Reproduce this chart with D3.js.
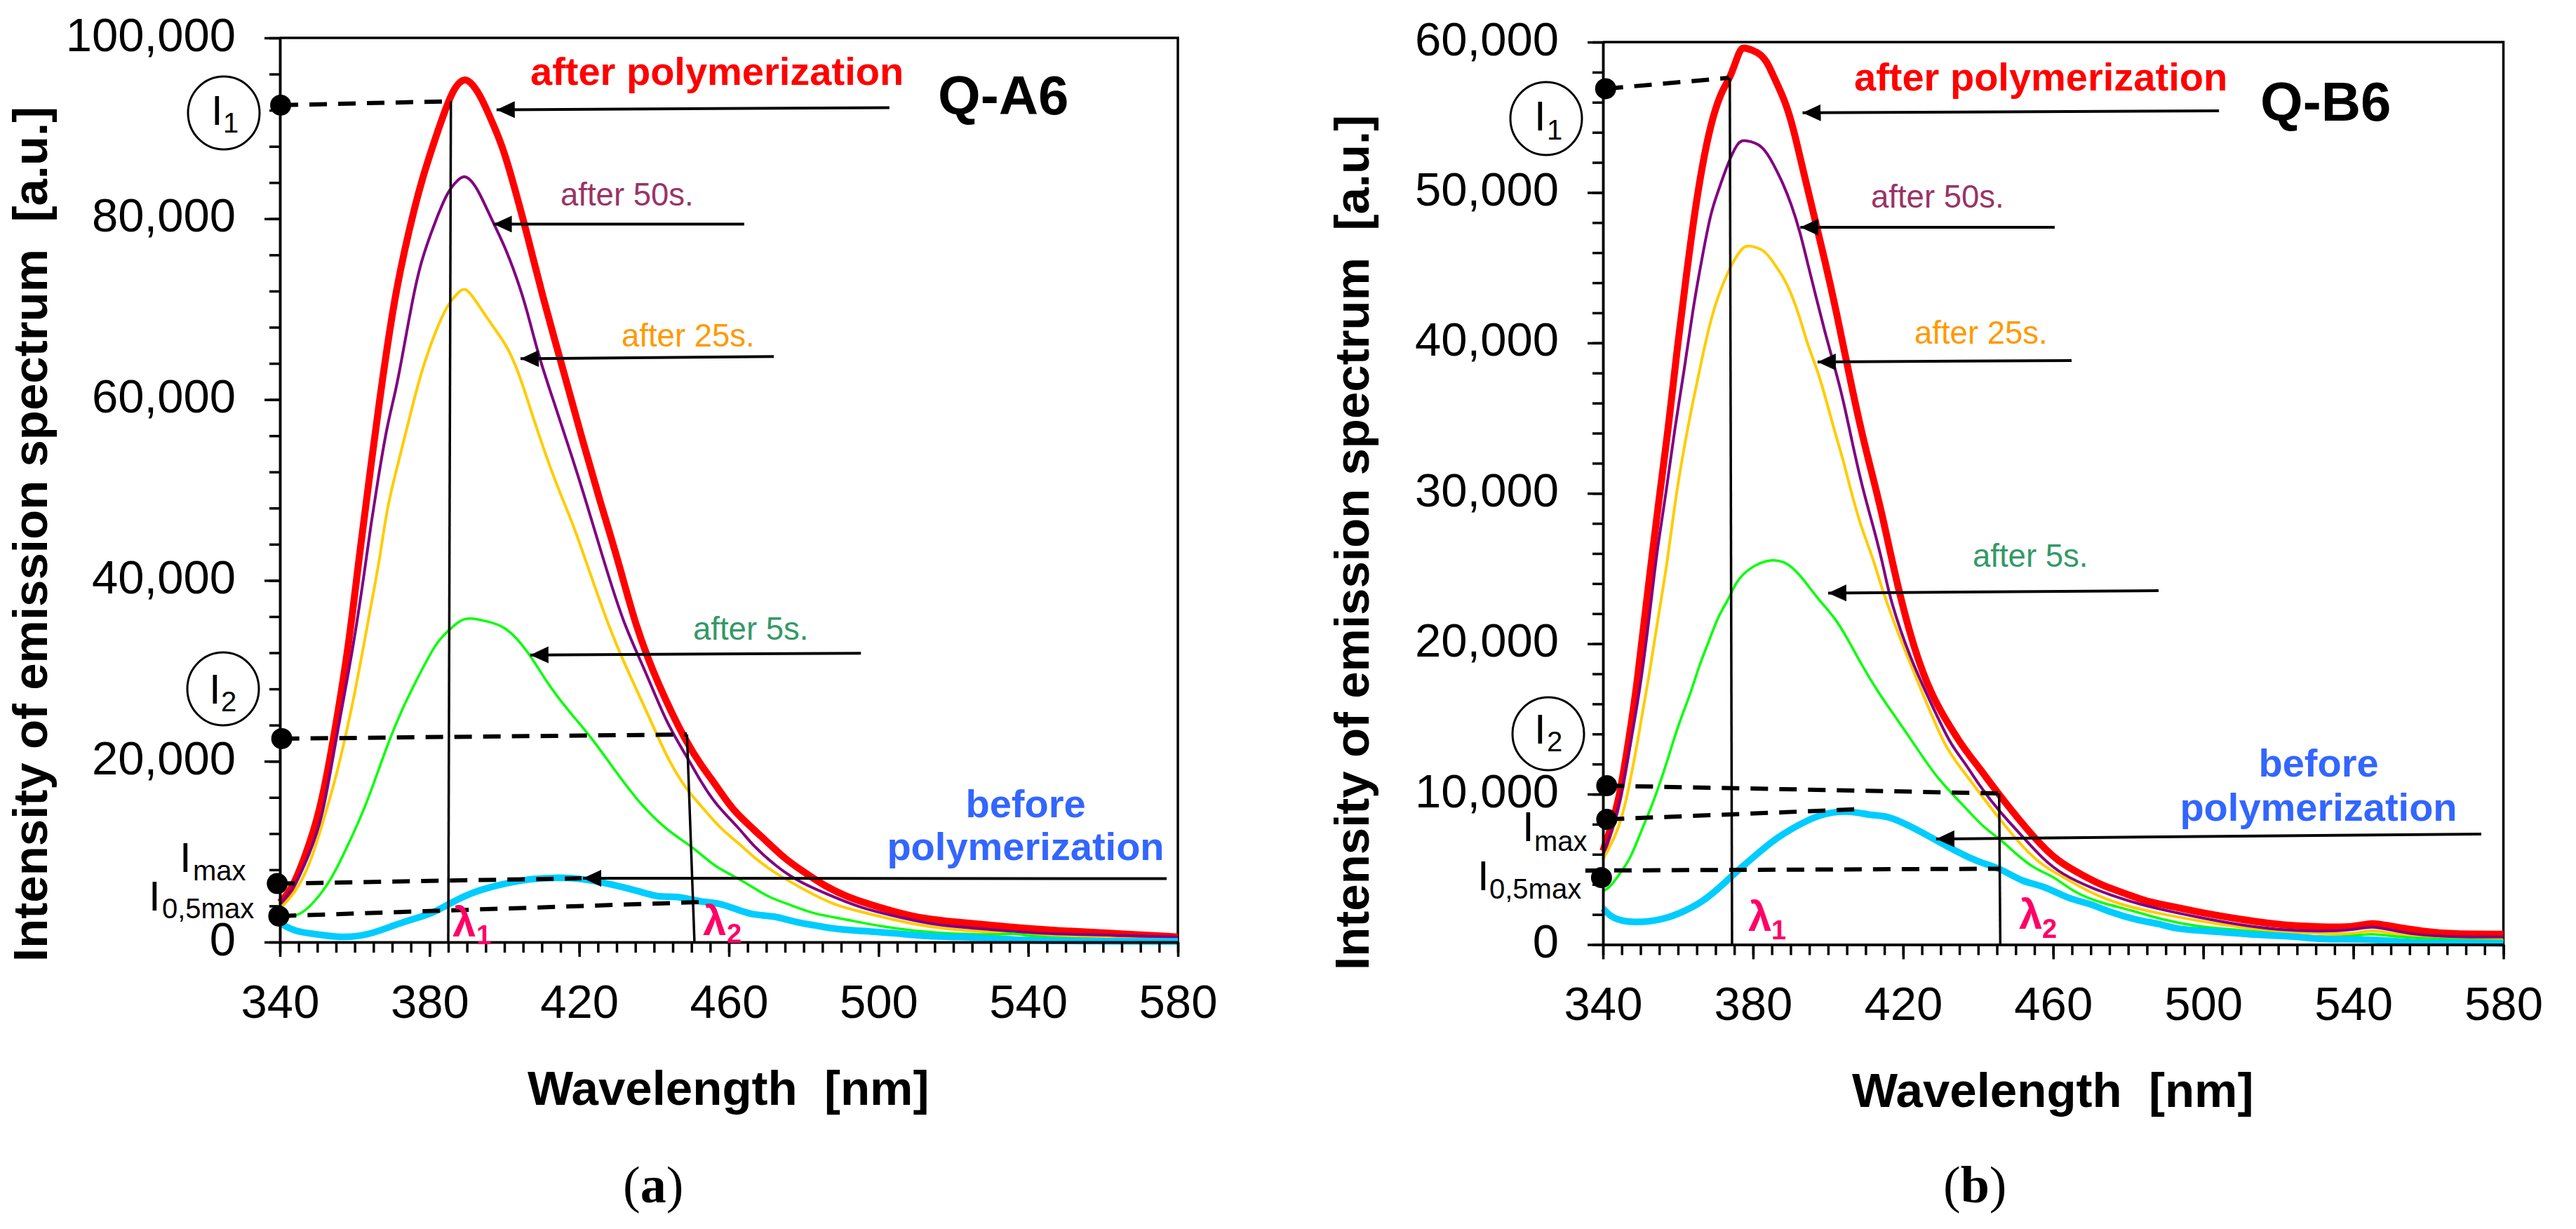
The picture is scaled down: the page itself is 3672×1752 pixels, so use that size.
<!DOCTYPE html>
<html>
<head>
<meta charset="utf-8">
<script src="https://cdn.jsdelivr.net/npm/d3@7"></script>
<style>
  body { margin: 0; background: #fff; }
  text { font-family: "Liberation Sans", Arial, sans-serif; white-space: pre; }
</style>
</head>
<body>
<div id="chart"></div>
<script>
// Wavelength axis, shared by both panels
const xMajorTicks = [340, 380, 420, 460, 500, 540, 580];
const xMinorTicks = d3.range(340, 581, 5);

// Panel (a) Q-A6: [wavelength, intensity]
const redA = [[340,4400],[342.9,5600],[346.5,9150],[350.7,14300],[354.3,22300],[358.4,32700],[361,42100],[366.8,60650],[371,72500],[376.4,82000],[378.8,85500],[384.8,92900],[387,94700],[389.3,95600],[391.5,94900],[393.8,93500],[398,89500],[400.3,87100],[406.3,78000],[410,71700],[415.9,63000],[420.6,55900],[425.5,48800],[430.5,42100],[435,35000],[441,28500],[448.8,21900],[452.7,19500],[457.5,16800],[461.3,14400],[469,11600],[474.6,9300],[480.4,7650],[485.2,6300],[491.9,4900],[500.5,3800],[510,2700],[519.6,2250],[534,1700],[548.3,1240],[562.7,960],[580,570]];
const purpleA = [[340,4200],[344,6100],[347.7,9600],[351.3,13400],[354.9,22300],[359.7,32700],[363,42100],[364.4,46400],[366.2,51100],[368.6,57100],[371,61000],[372.8,65000],[375.2,70500],[377.6,75300],[381.8,80000],[384.8,83000],[387.5,84300],[389.3,84800],[391,84300],[393,83200],[397.4,79200],[400.3,76800],[404.5,72100],[406.9,68500],[409.3,64600],[413.5,59400],[418.2,53500],[421.2,49600],[426.6,42100],[432,35000],[437.4,30300],[443.3,24200],[448.8,20500],[452.7,17600],[456.5,15200],[463.2,12400],[466,10850],[472.8,8300],[478.6,6700],[486.2,5300],[495.7,3700],[504.4,2870],[514.9,1860],[529.2,1430],[543.6,900],[562.7,780],[580,570]];
const yellowA = [[340,3700],[344,5400],[347.7,8200],[351.3,12950],[354.9,18100],[357.3,22300],[360.3,28000],[364.4,37400],[366.6,42100],[368.6,48000],[371,52000],[373.4,55900],[377.6,63000],[381.8,67800],[384.8,70500],[387.5,71800],[389.3,72400],[391,71700],[393,70500],[397.4,67800],[401,65800],[404.5,62200],[406.9,59000],[411,53900],[414.6,49900],[418.2,46400],[421.8,42100],[423,40700],[427.8,35000],[432.6,30300],[437.4,26100],[443.3,20500],[448.2,17100],[452.7,15000],[457.5,12650],[462.3,11050],[468,8900],[472.8,7500],[481.4,5500],[488.1,4100],[495.7,3300],[505.3,2340],[514.9,1550],[529.2,1090],[543.6,780],[562.7,390],[580,250]];
const greenA = [[340,2700],[342.4,2800],[345.3,3000],[348.8,4200],[353.7,6800],[358.5,11000],[362.7,14800],[366.8,19550],[369.2,22300],[372.8,25900],[376.4,28900],[381.8,33200],[384.8,34350],[388,35600],[390.7,35900],[395,35500],[400.3,35000],[406.3,32200],[411,28900],[417,25600],[423,22800],[430.2,18600],[436.2,15300],[443.3,12400],[449.3,10800],[452.7,9650],[456.5,8300],[462.3,7100],[467,5900],[470.9,4900],[477.6,3950],[482.4,3130],[491,2550],[500.5,1700],[514.9,960],[534,780],[536,1000],[538,780],[548,390],[580,220]];
const blueA = [[340,2100],[344,1160],[348.8,930],[356,470],[363.2,700],[370.4,1860],[376.4,2640],[381.2,3260],[386,4420],[391.9,5600],[399,6360],[405,6900],[413.5,7170],[420.6,7050],[429,6360],[436.2,5600],[441.6,4900],[445.8,5150],[452.7,4400],[457.5,4340],[462.3,3570],[467,2950],[471.8,2950],[478.6,2100],[483.3,1860],[488,1430],[498.6,1160],[505.3,960],[512,640],[529,490],[538.7,170],[558,100],[580,80]];

// Panel (b) Q-B6
const redB = [[340,6230],[342,7650],[344.3,9630],[346.7,13310],[349.1,17280],[351.5,22650],[355.1,29960],[357.5,34480],[359.8,39710],[362.2,44470],[364.6,49000],[367,52570],[369.4,55180],[371.8,56850],[374.1,57680],[376.5,59600],[377.7,59650],[381.3,59350],[383.7,58750],[385.5,57680],[388.5,56140],[390.8,54230],[393.2,51610],[396.2,48520],[399.2,45430],[402.2,42100],[405.1,38520],[408.1,34950],[411.1,31860],[414.1,29000],[418.3,24000],[423,19540],[427.8,16430],[432.6,14440],[436.3,13000],[440.5,11690],[445.7,9900],[455,7050],[461.3,5500],[467.5,4660],[472.7,3950],[481,3240],[485.2,2830],[493.5,2450],[500.8,2050],[511.2,1620],[521.6,1260],[532,1170],[540.3,1140],[545,1500],[549.7,1210],[559,860],[566.3,690],[580,690]];
const purpleB = [[340,5950],[342,7360],[344.3,9060],[347.3,13310],[350.3,17560],[353.3,23790],[354.5,26390],[356.8,29960],[359.2,34480],[361.6,38050],[364,42330],[366.4,45660],[368.8,48760],[370.6,50000],[372.9,51700],[375.9,53400],[377.7,53500],[382.5,53200],[385.5,51850],[387.9,50660],[390.2,49230],[392.6,47330],[394.4,45430],[396.8,43050],[399.2,40670],[401.6,38520],[403.9,36380],[406.3,33530],[409.3,30190],[412.3,27580],[414.9,25000],[416.5,22940],[421.9,18980],[427.8,15860],[432.6,13300],[436.3,12160],[440.5,10500],[445.7,8830],[451.9,7160],[457.1,5730],[462.3,4660],[470.6,3710],[480,2880],[488.3,2350],[498.7,1810],[509.1,1330],[519.5,980],[532,860],[540.3,980],[545,1250],[549.7,980],[555.9,670],[566.3,500],[580,500]];
const yellowB = [[340,5660],[343.7,7360],[346.1,9340],[349.1,13310],[352.1,17560],[355.1,22370],[357.2,25480],[359.2,29480],[361.6,33050],[364,36140],[366.4,39000],[368.8,41620],[370.6,43050],[373.5,44900],[377.1,46400],[378.9,46500],[383.1,46200],[385.5,45310],[387.9,44470],[390.2,43300],[392.6,41620],[394.4,39950],[397.4,38050],[399.8,35910],[401.6,34240],[403.9,32340],[406.3,29960],[408.7,27810],[412.3,25480],[414.1,23790],[419.5,20110],[426.6,15860],[431.4,13000],[436.3,11450],[440.5,10020],[445.7,8350],[451.9,6450],[457.1,5260],[462.3,4540],[469.6,3470],[477.9,2640],[488.3,2050],[498.7,1570],[509.1,1170],[519.5,860],[532,740],[540.3,690],[545,1000],[549.7,740],[558,450],[580,310]];
const greenB = [[340,3540],[342,3820],[344.3,4670],[347.3,5660],[350.3,7650],[353.3,9340],[357.5,12460],[359.8,14440],[363.4,16710],[365.8,18690],[368.2,20110],[370.6,21810],[373.5,22940],[375.3,24070],[378.9,25060],[384.9,25700],[389.6,25350],[393.2,24360],[397.4,22940],[401.6,21810],[405.1,20390],[408.7,18690],[413.5,16710],[418.3,15010],[423,13310],[429,11050],[436.3,9190],[441.5,7760],[445.7,7050],[449.8,6090],[455,5020],[460.2,4540],[465.4,3470],[472.7,2760],[481,2280],[488.3,1690],[498.7,1170],[509.1,980],[519.5,740],[529.9,500],[540.3,550],[545,760],[549.7,550],[559,380],[580,260]];
const blueB = [[340,2410],[342.5,1700],[348,1420],[356.2,1640],[362.2,2270],[366.4,2830],[370.6,3680],[374.8,4670],[380.1,5810],[386.1,7080],[392,7930],[397.4,8640],[405.1,8950],[411.1,8580],[415.9,8580],[421.9,7870],[427.8,7080],[433.8,6230],[440.9,5400],[445.7,5100],[451.9,4140],[457.1,3950],[464.4,3000],[469.6,2760],[474.8,2170],[483.1,1570],[488.3,1400],[492.5,1020],[503.9,860],[514.3,620],[524.7,550],[532,310],[544.5,380],[558,70],[570.5,140],[580,70]];

// Annotations in data units: [x1, y1, x2, y2]
const dashesA = [[340.2,92560,385.7,92990],[340.5,22500,448.8,22960],[339.3,6470,420.6,7060],[339.7,2880,452.7,4430]];
const dropsA = [[385.7,92990,385,0],[448.8,22960,450.8,0]];
const dotsA = [[340.2,92560],[340.5,22500],[339.3,6470],[339.7,2880]];
const arrowsA = [[502.9,92280,397.9,92050],[464.1,79410,397.1,79410],[472,64750,404.3,64520],[495.3,31950,406.9,31750],[577,7020,421,7060]];

const dashesB = [[340.7,56900,373.5,57620],[341,10560,445.6,10050],[341,8325,408.4,9000],[335.3,4920,445.6,5040]];
const dropsB = [[373.8,57620,374.4,0],[445.6,10050,445.9,0]];
const dotsB = [[340.7,56900],[341,10560],[341,8325],[339.6,4450]];
const arrowsB = [[504.2,55430,393.2,55300],[460.4,47690,392.6,47690],[464.9,38830,397.2,38730],[488.1,23530,400,23370],[574.1,7350,428.8,7020]];

const svg = d3.select('#chart').append('svg')
    .attr('width', 3672)
    .attr('height', 1752);

svg.append('defs').append('marker')
    .attr('id', 'head')
    .attr('markerUnits', 'userSpaceOnUse')
    .attr('markerWidth', 28)
    .attr('markerHeight', 28)
    .attr('refX', 26)
    .attr('refY', 12)
    .attr('orient', 'auto')
    .append('path')
    .attr('d', 'M0,0L26,12L0,24Z')
    .attr('fill', '#000');

function label(x, y, str, size, color = '#000', weight = 'normal', anchor = 'start') {
    return svg.append('text')
        .attr('x', x)
        .attr('y', y)
        .attr('font-size', size)
        .attr('font-weight', weight)
        .attr('fill', color)
        .attr('text-anchor', anchor)
        .text(str);
}

function drawPanel(p) {
    const x = d3.scaleLinear().domain([340, 580]).range([p.left, p.right]);
    const y = d3.scaleLinear().domain([0, p.yMax]).range([p.bottom, p.top]);
    const g = svg.append('g');

    // Frame top and right
    g.append('path')
        .attr('d', `M${p.left},${p.top}H${p.right}V${p.bottom}`)
        .attr('fill', 'none')
        .attr('stroke', '#000')
        .attr('stroke-width', 3.5);

    // Curves
    const line = d3.line().x(d => x(d[0])).y(d => y(d[1])).curve(d3.curveBasis);
    p.series.forEach(s => {
        g.append('path')
            .attr('d', line(s.values))
            .attr('fill', 'none')
            .attr('stroke', s.color)
            .attr('stroke-width', s.width)
            .attr('stroke-linejoin', 'round');
    });

    // Axes: minor ticks first, then labelled majors
    const axisStyle = sel => {
        sel.selectAll('path,line').attr('stroke', '#000').attr('stroke-width', 3.5);
        sel.selectAll('text').attr('font-size', 67).attr('fill', '#000')
            .attr('font-family', '"Liberation Sans", Arial, sans-serif');
    };
    g.append('g').attr('transform', `translate(0,${p.bottom})`)
        .call(d3.axisBottom(x).tickValues(xMinorTicks).tickSize(15).tickFormat('').tickSizeOuter(0))
        .call(axisStyle);
    g.append('g').attr('transform', `translate(0,${p.bottom})`)
        .call(d3.axisBottom(x).tickValues(xMajorTicks).tickSize(21).tickPadding(39).tickSizeOuter(0))
        .call(axisStyle);
    g.append('g').attr('transform', `translate(${p.left},0)`)
        .call(d3.axisLeft(y).tickValues(p.yMinorTicks).tickSize(15).tickFormat('').tickSizeOuter(0))
        .call(axisStyle);
    g.append('g').attr('transform', `translate(${p.left},0)`)
        .call(d3.axisLeft(y).tickValues(p.yMajorTicks).tickSize(22).tickPadding(p.yPad).tickFormat(d3.format(',')).tickSizeOuter(0))
        .call(axisStyle)
        .selectAll('text').attr('dy', '0.27em');

    // Construction lines
    g.selectAll('.drop').data(p.drops).join('line')
        .attr('x1', d => x(d[0])).attr('y1', d => y(d[1]))
        .attr('x2', d => x(d[2])).attr('y2', d => y(d[3]))
        .attr('stroke', '#000').attr('stroke-width', 3.5);
    g.selectAll('.dash').data(p.dashes).join('line')
        .attr('x1', d => x(d[0])).attr('y1', d => y(d[1]))
        .attr('x2', d => x(d[2])).attr('y2', d => y(d[3]))
        .attr('stroke', '#000').attr('stroke-width', 6)
        .attr('stroke-dasharray', '25,16');
    g.selectAll('.dot').data(p.dots).join('circle')
        .attr('cx', d => x(d[0])).attr('cy', d => y(d[1]))
        .attr('r', 15).attr('fill', '#000');
    g.selectAll('.arrow').data(p.arrows).join('line')
        .attr('x1', d => x(d[0])).attr('y1', d => y(d[1]))
        .attr('x2', d => x(d[2])).attr('y2', d => y(d[3]))
        .attr('stroke', '#000').attr('stroke-width', 4)
        .attr('marker-end', 'url(#head)');

    // Circled I1 and I2
    p.circles.forEach(c => {
        g.append('ellipse')
            .attr('cx', c.cx).attr('cy', c.cy)
            .attr('rx', 51).attr('ry', 52)
            .attr('fill', 'none').attr('stroke', '#000').attr('stroke-width', 3);
        label(c.cx + c.ix, c.cy + c.iy, 'I', 60);
        label(c.cx + c.sx, c.cy + c.sy, c.sub, 40);
    });

    // I max and I 0,5max
    label(p.imax[0], p.imax[1], 'I', 60);
    label(p.imax[2], p.imax[3], 'max', 40);
    label(p.ihalf[0], p.ihalf[1], 'I', 60);
    label(p.ihalf[2], p.ihalf[3], '0,5max', 40);

    // Lambda labels
    p.lambdas.forEach(l => {
        label(l[0], l[1], 'λ', 60, '#ff0066', 'bold');
        label(l[2], l[3], l[4], 38, '#ff0066', 'bold');
    });

    // Curve names and panel name
    label(p.afterPoly[0], p.afterPoly[1], 'after polymerization', 56, '#ff0000', 'bold');
    label(p.name[0], p.name[1], p.name[2], 78, '#000', 'bold');
    label(p.after50[0], p.after50[1], 'after 50s.', 45.5, '#993366');
    label(p.after25[0], p.after25[1], 'after 25s.', 45.5, '#ff9900');
    label(p.after5[0], p.after5[1], 'after 5s.', 45.5, '#339966');
    label(p.before[0], p.before[1], 'before', 56, '#3366ff', 'bold', 'middle');
    label(p.before[0], p.before[2], 'polymerization', 56, '#3366ff', 'bold', 'middle');

    // Axis titles
    label(p.xTitle[0], p.xTitle[1], 'Wavelength  [nm]', 69, '#000', 'bold');
    label(0, 0, 'Intensity of emission spectrum  [a.u.]', 69, '#000', 'bold')
        .attr('transform', `translate(${p.yTitle[0]},${p.yTitle[1]}) rotate(-90)`);

    // Caption: serif, letter in bold
    const cap = label(p.caption[0], 1714, '(', 74).style('font-family', '"Liberation Serif", serif');
    cap.append('tspan').attr('font-weight', 'bold').text(p.caption[1]);
    cap.append('tspan').text(')');
}

drawPanel({
    left: 399, right: 1679, top: 54, bottom: 1343, yMax: 100000, yPad: 41,
    yMajorTicks: d3.range(0, 100001, 20000),
    yMinorTicks: d3.range(0, 100001, 4000),
    series: [
        { values: redA, color: '#ff0000', width: 10 },
        { values: yellowA, color: '#ffcc00', width: 4 },
        { values: purpleA, color: '#800080', width: 4 },
        { values: greenA, color: '#00ff00', width: 3.5 },
        { values: blueA, color: '#00ccff', width: 9.5 }
    ],
    dashes: dashesA, drops: dropsA, dots: dotsA, arrows: arrowsA,
    circles: [
        { cx: 319, cy: 161, sub: '1', ix: -18, iy: 17, sx: -1, sy: 28 },
        { cx: 318, cy: 982, sub: '2', ix: -20, iy: 21, sx: -3, sy: 32 }
    ],
    imax: [256, 1243, 275, 1255],
    ihalf: [212, 1298, 231, 1309],
    lambdas: [[645, 1335, 679, 1346, '1'], [1002, 1333, 1036, 1344, '2']],
    afterPoly: [756, 121],
    name: [1337, 163, 'Q-A6'],
    after50: [799, 293], after25: [886, 494], after5: [988, 912],
    before: [1462, 1165, 1226],
    xTitle: [752, 1575],
    yTitle: [67, 1371],
    caption: [888, 'a']
});

drawPanel({
    left: 2285, right: 3568.5, top: 60, bottom: 1346.5, yMax: 60000, yPad: 41,
    yMajorTicks: d3.range(0, 60001, 10000),
    yMinorTicks: d3.range(0, 60001, 2000),
    series: [
        { values: redB, color: '#ff0000', width: 10 },
        { values: yellowB, color: '#ffcc00', width: 4 },
        { values: purpleB, color: '#800080', width: 4 },
        { values: greenB, color: '#00ff00', width: 3.5 },
        { values: blueB, color: '#00ccff', width: 9.5 }
    ],
    dashes: dashesB, drops: dropsB, dots: dotsB, arrows: arrowsB,
    circles: [
        { cx: 2204, cy: 169, sub: '1', ix: -17, iy: 17, sx: 1, sy: 30 },
        { cx: 2207, cy: 1046, sub: '2', ix: -20, iy: 14, sx: -2, sy: 25 }
    ],
    imax: [2170, 1199, 2187, 1213],
    ihalf: [2106, 1269, 2123, 1281],
    lambdas: [[2492, 1327, 2525, 1339, '1'], [2878, 1324, 2911, 1337, '2']],
    afterPoly: [2643, 129],
    name: [3222, 172, 'Q-B6'],
    after50: [2667, 296], after25: [2729, 490], after5: [2812, 808],
    before: [3305, 1107, 1170],
    xTitle: [2640, 1578],
    yTitle: [1951, 1383],
    caption: [2770, 'b']
});
</script>
</body>
</html>
